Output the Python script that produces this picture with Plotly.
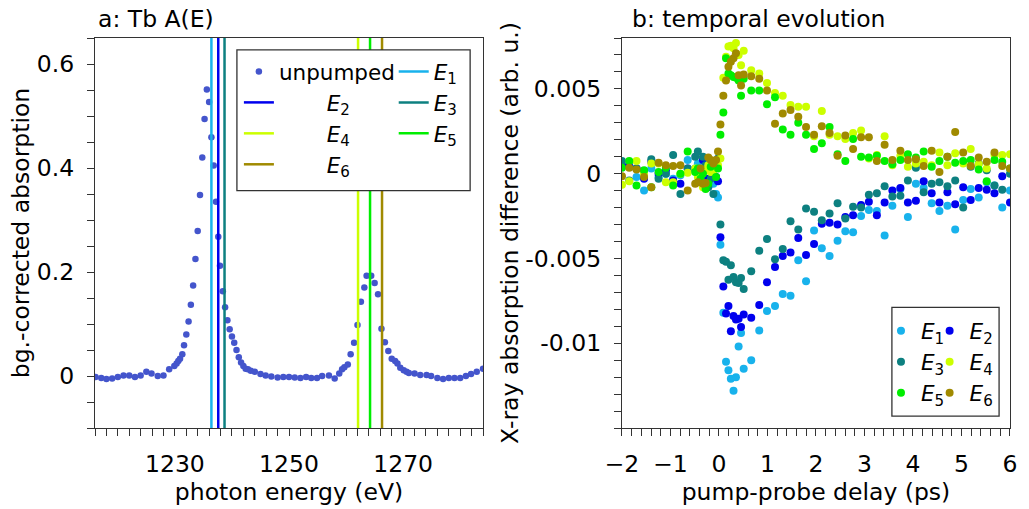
import plotly.graph_objects as go

# ---------------- panel a: unpumped spectrum ----------------
energy = [1216.1, 1217.1, 1218.0, 1219.0, 1220.0, 1221.0, 1222.0, 1223.0, 1224.0, 1225.0,
          1225.9, 1227.0, 1228.0, 1229.0, 1229.9, 1230.3, 1230.6, 1230.9, 1231.3, 1231.6,
          1232.0, 1232.4, 1232.8, 1233.2, 1233.6, 1234.0, 1234.4, 1234.8, 1235.2, 1235.6,
          1236.0, 1236.4, 1236.8, 1237.2, 1237.6, 1237.9, 1238.4, 1238.8, 1239.2, 1239.6,
          1240.0, 1240.4, 1240.8, 1241.2, 1241.6, 1242.0, 1242.4, 1242.8, 1243.3, 1244.0,
          1245.0, 1245.9, 1246.9, 1248.0, 1249.0, 1250.0, 1251.0, 1252.0, 1253.0, 1253.9,
          1254.9, 1255.8, 1257.0, 1258.0, 1258.8, 1259.3, 1259.7, 1260.3, 1260.8, 1261.4,
          1262.0, 1262.6, 1263.2, 1263.6, 1264.4, 1265.0, 1265.6, 1266.2, 1266.8, 1267.4,
          1268.0, 1268.6, 1269.0, 1269.5, 1270.1, 1270.6, 1271.0, 1272.0, 1273.0, 1274.1,
          1274.9, 1276.0, 1277.0, 1278.0, 1279.0, 1280.0, 1281.0, 1281.9, 1282.9, 1284.0]
absorption = [-0.002, -0.004, -0.006, -0.005, -0.002, 0.001, 0.001, -0.002, 0.001, 0.008,
              0.005, 0.0, 0.001, 0.013, 0.019, 0.024, 0.029, 0.033, 0.042, 0.059,
              0.080, 0.105, 0.137, 0.174, 0.225, 0.279, 0.348, 0.420, 0.494, 0.551,
              0.527, 0.459, 0.405, 0.335, 0.268, 0.212, 0.163, 0.132, 0.107, 0.090,
              0.076, 0.064, 0.050, 0.036, 0.026, 0.019, 0.014, 0.013, 0.010, 0.008,
              0.004, 0.001, -0.001, -0.003, -0.002, -0.002, -0.003, -0.004, -0.002, -0.004,
              -0.004, 0.0, 0.001, -0.005, 0.005, 0.013, 0.017, 0.022, 0.042, 0.064,
              0.098, 0.143, 0.170, 0.193, 0.193, 0.179, 0.157, 0.091, 0.065, 0.048,
              0.033, 0.029, 0.024, 0.016, 0.011, 0.008, 0.006, 0.005, 0.002, 0.002,
              0.0, -0.004, -0.006, -0.004, -0.004, -0.004, 0.0, 0.004, 0.008, 0.014]

probe_energies = [1236.4, 1237.6, 1238.7, 1262.1, 1264.2, 1266.3]
probe_labels = ["1", "2", "3", "4", "5", "6"]
probe_colors = ["#18b2ec", "#0000ee", "#0d8080", "#ccff00", "#00ee00", "#a08a00"]
unpumped_color = "#4455cc"

# ---------------- panel b: temporal evolution ----------------
delay = [-2.0, -1.85, -1.7, -1.545, -1.395, -1.245, -1.095, -0.945, -0.795, -0.645,
         -0.49, -0.435, -0.38, -0.33, -0.275, -0.22, -0.17, -0.115, -0.06, -0.02,
         0.03, 0.09, 0.145, 0.195, 0.245, 0.3, 0.35, 0.405, 0.455, 0.51,
         0.665, 0.83, 0.99, 1.155, 1.315, 1.475, 1.635, 1.795, 1.96, 2.12,
         2.28, 2.445, 2.605, 2.765, 2.93, 3.09, 3.255, 3.415, 3.575, 3.74,
         3.895, 4.06, 4.22, 4.385, 4.545, 4.71, 4.87, 5.035, 5.19, 5.355,
         5.52, 5.68, 5.84, 6.0]

E1 = [0.0004, 0.0005, -0.0002, -0.0010, 0.0003, -0.0002, 0.0, -0.0003, -0.0001, 0.0008,
      0.0003, 0.0006, 0.0001, -0.0002, 0.0002, -0.0004, -0.0003, -0.0006, -0.0012, -0.0014,
      -0.0042, -0.0082, -0.0111, -0.0116, -0.0121, -0.0128, -0.0120, -0.0102, -0.0094, -0.0115,
      -0.0110, -0.00925, -0.0081, -0.0078, -0.0071, -0.0072, -0.0051, -0.00635, -0.00335, -0.0044,
      -0.00485, -0.00395, -0.0034, -0.00345, -0.0025, -0.00215, -0.0022, -0.00365, -0.0019, -0.0009,
      -0.00255, -0.0006, -0.00085, -0.00175, -0.0022, -0.0019, -0.0033, -0.00155, -0.0009, -0.0014,
      -0.0005, -0.0007, -0.0020, -0.0010]
E2 = [0.0005, 0.0004, 0.0003, -0.0003, 0.0007, 0.0, 0.0002, -0.0004, -0.0006, 0.0003,
      0.0002, 0.0001, -0.0002, 0.0008, 0.0003, -0.0003, 0.0005, -0.0001, -0.0002, -0.00045,
      -0.00375, -0.00665, -0.00825, -0.0078, -0.0093, -0.0084, -0.0086, -0.00855, -0.00905, -0.0083,
      -0.0085, -0.00775, -0.0064, -0.0055, -0.00485, -0.00465, -0.0038, -0.0048, -0.00415, -0.00295,
      -0.0029, -0.0030, -0.00255, -0.00245, -0.00185, -0.00165, -0.00245, -0.0017, -0.0010, -0.00085,
      -0.0017, -0.0016, -0.00045, -0.00115, -0.0017, -0.0011, -0.0018, -0.0008, -0.00155, -0.00085,
      -0.00095, -0.00115, -0.00015, -0.0017]
E3 = [0.00075, -0.0004, 0.0003, 0.00015, 0.00085, -0.0003, 0.0, 0.0011, -0.0012, 0.0003,
      0.0010, 0.0013, -0.0005, 0.0010, 0.0005, -0.0008, -0.0003, -0.0012, 0.0006, 0.0009,
      -0.0030, -0.0051, -0.0052, -0.00625, -0.0054, -0.0061, -0.0064, -0.00645, -0.00615, -0.0068,
      -0.00575, -0.00455, -0.00385, -0.00505, -0.00445, -0.0028, -0.0033, -0.00205, -0.00225, -0.00275,
      -0.00235, -0.00175, -0.00265, -0.00195, -0.0020, -0.00125, -0.00115, -0.00075, -0.00135, -0.0013,
      -0.0004, 0.00035, -0.0011, -0.0006, -0.0005, -0.00075, -0.0004, -0.0020, 0.0004, 0.0006,
      0.0002, -0.0007, -0.00095, 0.0]
E4 = [-0.00065, -0.00045, 0.00075, 0.0, 0.0006, 0.0006, -0.0005, -0.0005, 0.0, 0.00005,
      0.0003, -0.0002, 0.0, -0.0008, 0.0002, 0.0005, 0.0001, 0.0002, 0.0004, 0.0005,
      0.0009, 0.00565, 0.0069, 0.0075, 0.00755, 0.0074, 0.0077, 0.0070, 0.0064, 0.00725,
      0.0061, 0.0059, 0.00535, 0.00475, 0.0046, 0.00405, 0.00395, 0.00395, 0.0022, 0.0037,
      0.0023, 0.0022, 0.00205, 0.0024, 0.00255, 0.0009, 0.0011, 0.0022, 0.0005, 0.00105,
      0.0004, 0.0006, 0.0007, 0.0005, 0.00125, 0.0005, 0.0012, 0.0006, 0.00145, 0.00055,
      0.0003, 0.0011, 0.0011, 0.00115]
E5 = [0.00035, 0.00075, -0.0007, 0.0002, -0.0008, 0.0001, 0.00035, -0.0007, 0.0, 0.0013,
      0.0001, 0.0003, -0.0003, 0.0, -0.0009, -0.0006, 0.0004, 0.0006, -0.0002, 0.0003,
      0.0023, 0.0036, 0.0068, 0.0059, 0.0058, 0.0057, 0.00565, 0.0055, 0.0046, 0.0056,
      0.0049, 0.0049, 0.0041, 0.0045, 0.0026, 0.0023, 0.0030, 0.0023, 0.00145, 0.0018,
      0.00275, 0.00115, 0.00075, 0.00205, 0.0010, 0.00095, 0.00105, 0.00075, 0.00055, 0.0008,
      0.00115, 0.00095, 0.0013, 0.0004, 0.00075, 0.0010, 0.00065, 0.00075, 0.0008, 0.00025,
      -0.00045, 0.0008, 0.0007, 0.0003]
E6 = [-0.00015, 0.00035, 0.00025, -0.0002, -0.0008, 0.00065, 0.0005, 0.00045, 0.0005, -0.0010,
      -0.0006, -0.0005, 0.0003, -0.0006, -0.00055, 0.00095, 0.0008, 0.0006, 0.0008, 0.0013,
      0.0029, 0.0046, 0.0055, 0.0063, 0.0066, 0.0068, 0.0071, 0.0058, 0.0052, 0.00585,
      0.00575, 0.0056, 0.0049, 0.00295, 0.00355, 0.00375, 0.00335, 0.00275, 0.0023, 0.0028,
      0.0024, 0.00105, 0.00225, 0.00145, 0.00215, 0.00215, 0.00075, 0.0017, 0.0008, 0.00135,
      0.0008, 0.00085, 0.00045, 0.00135, 0.0001, 0.0010, 0.00245, 0.00125, 0.00045, 0.00095,
      0.0007, 0.00125, 0.00045, 0.0003]
series = [E1, E2, E3, E4, E5, E6]

# ---------------- styling ----------------
FONT = "DejaVu Sans"
TICK_SIZE = 23.5
LEG_SIZE = 21.5
AX = "#333333"
W, H = 1029, 509
ML, MR, MT, MB = 95, 12, 38, 80
PW, PH = W - ML - MR, H - MT - MB


def px(xp):
    return (xp - ML) / PW


def py(yp):
    return (H - MB - yp) / PH


YR_A = [-0.1, 0.65]
YR_B = [-0.015, 0.008]

fig = go.Figure()

fig.add_trace(go.Scatter(x=energy, y=absorption, mode="markers", name="unpumped",
                         marker=dict(color=unpumped_color, size=6.5),
                         xaxis="x", yaxis="y", legend="legend"))
for i, (e, c, lab) in enumerate(zip(probe_energies, probe_colors, probe_labels)):
    name = f"<i>E</i><sub>{lab}</sub>"
    if i % 2 == 0:
        leg = "legend2"
    else:
        leg = "legend"
        name = "\u00a0" * 7 + name
    fig.add_trace(go.Scatter(x=[e, e], y=YR_A, mode="lines", name=name,
                             line=dict(color=c, width=2.5),
                             xaxis="x", yaxis="y", legend=leg))

for i, (vals, c, lab) in enumerate(zip(series, probe_colors, probe_labels)):
    fig.add_trace(go.Scatter(x=delay, y=vals, mode="markers",
                             name=f"<i>E</i><sub>{lab}</sub>",
                             marker=dict(color=c, size=8),
                             xaxis="x2", yaxis="y2",
                             legend="legend3" if i % 2 == 0 else "legend4"))

tickfont = dict(family=FONT, size=TICK_SIZE, color="black")
titlefont = dict(family=FONT, size=TICK_SIZE, color="black")
common = dict(showline=True, linecolor=AX, linewidth=1.3, mirror=True, ticks="outside",
              ticklen=7, tickcolor=AX, tickwidth=1.2, showgrid=False, zeroline=False,
              tickfont=tickfont, ticklabelstandoff=8)

legcommon = dict(bgcolor="rgba(0,0,0,0)", borderwidth=0, orientation="v",
                 font=dict(family=FONT, size=LEG_SIZE, color="black"),
                 xanchor="left", yanchor="top", tracegroupgap=0)

fig.update_layout(
    width=W, height=H, margin=dict(l=ML, r=MR, t=MT, b=MB),
    paper_bgcolor="white", plot_bgcolor="white",
    font=dict(family=FONT, color="black"),
    xaxis=dict(domain=[0, px(486)], range=[1216, 1284], tick0=1230, dtick=20, anchor="y",
               minor=dict(tick0=1230, dtick=2, ticks="outside", ticklen=7, tickcolor=AX, tickwidth=1.2),
               title=dict(text="photon energy (eV)", font=titlefont, standoff=2), **common),
    yaxis=dict(domain=[0, 1], range=YR_A, tick0=0, dtick=0.2, anchor="x",
               minor=dict(tick0=0, dtick=0.05, ticks="outside", ticklen=7, tickcolor=AX, tickwidth=1.2),
               title=dict(text="bg.-corrected absorption", font=titlefont, standoff=0), **common),
    xaxis2=dict(domain=[px(626), 1], range=[-2, 6], tick0=0, dtick=1, anchor="y2",
                minor=dict(tick0=0, dtick=0.2, ticks="outside", ticklen=7, tickcolor=AX, tickwidth=1.2),
                title=dict(text="pump-probe delay (ps)", font=titlefont, standoff=2), **common),
    yaxis2=dict(domain=[0, 1], range=YR_B, anchor="x2", tickmode="array",
                tickvals=[-0.01, -0.005, 0, 0.005], ticktext=["-0.01", "-0.005", "0", "0.005"],
                minor=dict(tickmode="linear", tick0=0, dtick=0.001, ticks="outside", ticklen=7,
                           tickcolor=AX, tickwidth=1.2),
                title=dict(text="X-ray absorption difference (arb. u.)", font=titlefont, standoff=0),
                **common),
    legend=dict(x=px(240), y=py(51), **legcommon),
    legend2=dict(x=px(396), y=py(51), **legcommon),
    legend3=dict(x=px(887), y=py(311), **legcommon),
    legend4=dict(x=px(936), y=py(311), **legcommon),
    shapes=[
        dict(type="rect", xref="paper", yref="paper", x0=px(238), x1=px(473), y0=py(191), y1=py(50),
             line=dict(color=AX, width=1.3), fillcolor="white", layer="above"),
        dict(type="rect", xref="paper", yref="paper", x0=px(898), x1=px(1006), y0=py(417), y1=py(308),
             line=dict(color=AX, width=1.3), fillcolor="white", layer="above"),
    ],
    annotations=[
        dict(text="a: Tb A(E)", xref="paper", yref="paper", x=px(96), y=py(19), xanchor="left",
             yanchor="middle", showarrow=False, font=dict(family=FONT, size=TICK_SIZE, color="black")),
        dict(text="b: temporal evolution", xref="paper", yref="paper", x=px(634), y=py(19),
             xanchor="left", yanchor="middle", showarrow=False,
             font=dict(family=FONT, size=TICK_SIZE, color="black")),
    ],
)

fig.write_html("out.html")
